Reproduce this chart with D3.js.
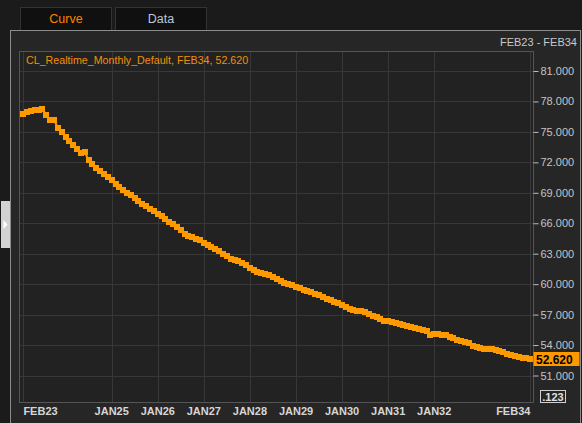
<!DOCTYPE html>
<html>
<head>
<meta charset="utf-8">
<style>
  html, body { margin: 0; padding: 0; background: #1b1b1b; }
  svg { display: block; font-family: "Liberation Sans", Arial, sans-serif; }
</style>
</head>
<body>
<svg id="chart" width="582" height="423"></svg>
<script src="https://cdn.jsdelivr.net/npm/d3@7/dist/d3.min.js"></script>
<script>
// monthly curve FEB23 .. FEB34 (133 contracts)
var startMonth = new Date(2023, 1, 1);
var values = [
  76.79, 76.94, 77.06, 77.16, 77.19, 77.27, 76.67, 76.19, 76.19, 75.41,
  75.02, 74.50, 74.10, 73.71, 73.32, 72.92, 73.02, 72.23, 71.84, 71.44,
  71.15, 70.85, 70.56, 70.26, 69.87, 69.57, 69.28, 69.01, 68.75, 68.49,
  68.19, 67.93, 67.67, 67.44, 67.21, 66.91, 66.71, 66.42, 66.12, 65.89,
  65.66, 65.37, 64.97, 64.78, 64.61, 64.48, 64.32, 64.09, 63.82, 63.63,
  63.43, 63.23, 63.00, 62.77, 62.51, 62.35, 62.25, 62.08, 61.92, 61.62,
  61.36, 61.20, 61.10, 61.00, 60.87, 60.70, 60.51, 60.31, 60.14, 60.01,
  59.89, 59.75, 59.59, 59.42, 59.29, 59.19, 59.06, 58.90, 58.73, 58.57,
  58.41, 58.24, 58.11, 57.92, 57.78, 57.58, 57.45, 57.35, 57.32, 57.22,
  57.03, 56.86, 56.73, 56.54, 56.40, 56.40, 56.30, 56.20, 56.07, 55.94,
  55.84, 55.75, 55.65, 55.55, 55.45, 55.35, 55.02, 55.12, 55.05, 54.96,
  54.96, 54.79, 54.66, 54.50, 54.40, 54.30, 54.20, 53.87, 53.77, 53.71,
  53.64, 53.64, 53.58, 53.48, 53.38, 53.29, 53.15, 53.02, 52.92, 52.82,
  52.72, 52.72, 52.62
];
var xTickLabels = ["FEB23", "JAN25", "JAN26", "JAN27", "JAN28", "JAN29", "JAN30", "JAN31", "JAN32", "FEB34"];
var xTickDates = [
  new Date(2023, 1, 1), new Date(2025, 0, 1), new Date(2026, 0, 1), new Date(2027, 0, 1),
  new Date(2028, 0, 1), new Date(2029, 0, 1), new Date(2030, 0, 1), new Date(2031, 0, 1),
  new Date(2032, 0, 1), new Date(2034, 1, 1)
];
var yTicks = [81, 78, 75, 72, 69, 66, 63, 60, 57, 54, 51];
var seriesName = "CL_Realtime_Monthly_Default";
var lastLabel = "FEB34";
var rangeLabel = "FEB23 - FEB34";

var data = values.map(function(v, i) {
  return { date: d3.timeMonth.offset(startMonth, i), value: v };
});
var last = data[data.length - 1];

var svg = d3.select("#chart");
var orange = "#ff9900";

// page chrome
svg.append("rect").attr("width", 582).attr("height", 423).attr("fill", "#1b1b1b");

var tabs = [
  { name: "Curve", x: 20.5, color: "#ff8000" },
  { name: "Data", x: 115.5, color: "#bcc6d8" }
];
var tab = svg.selectAll(".tab").data(tabs).enter().append("g").attr("class", "tab");
tab.append("rect")
  .attr("x", function(d) { return d.x; }).attr("y", 7.5)
  .attr("width", 91).attr("height", 23)
  .attr("fill", "#101010").attr("stroke", "#333333");
tab.append("text")
  .attr("x", function(d) { return d.x + 45.5; }).attr("y", 23)
  .attr("text-anchor", "middle").attr("font-size", 12.5)
  .attr("fill", function(d) { return d.color; })
  .text(function(d) { return d.name; });

// panel
svg.append("rect").attr("x", 10.5).attr("y", 30.5).attr("width", 570).attr("height", 400)
  .attr("fill", "#262626").attr("stroke", "#8c8c8c");

// side handle
svg.append("rect").attr("x", 1).attr("y", 201).attr("width", 9).attr("height", 47).attr("fill", "#d2d2d2");
svg.append("path").attr("d", "M3.5,220 L7.5,224.5 L3.5,229 Z").attr("fill", "#ffffff");

// plot
var plot = { left: 19.5, top: 51.5, right: 533.5, bottom: 402.5 };
svg.append("rect").attr("x", plot.left).attr("y", plot.top)
  .attr("width", plot.right - plot.left).attr("height", plot.bottom - plot.top)
  .attr("fill", "#222222");

var x = d3.scaleTime()
  .domain([startMonth, last.date])
  .range([23.4, 530.4]);
var y = d3.scaleLinear()
  .domain([81, 51])
  .range([71, 375.5]);

// grid
svg.append("g").selectAll("line").data(yTicks).enter().append("line")
  .attr("x1", plot.left).attr("x2", plot.right)
  .attr("y1", function(d) { return Math.round(y(d)) + 0.5; })
  .attr("y2", function(d) { return Math.round(y(d)) + 0.5; })
  .attr("stroke", "#383838");
svg.append("g").selectAll("line").data(xTickDates).enter().append("line")
  .attr("x1", function(d) { return Math.round(x(d)) + 0.5; })
  .attr("x2", function(d) { return Math.round(x(d)) + 0.5; })
  .attr("y1", plot.top).attr("y2", plot.bottom)
  .attr("stroke", "#383838");

svg.append("rect").attr("x", plot.left).attr("y", plot.top)
  .attr("width", plot.right - plot.left).attr("height", plot.bottom - plot.top)
  .attr("fill", "none").attr("stroke", "#555555");

// y axis on the right
var yAxis = d3.axisRight(y).tickValues(yTicks).tickSize(5).tickPadding(2)
  .tickFormat(d3.format(".3f"));
var ya = svg.append("g").attr("transform", "translate(" + plot.right + ",0)").call(yAxis);
ya.select(".domain").remove();
ya.selectAll(".tick line").attr("stroke", "#bdbdbd");
ya.selectAll(".tick text").attr("fill", "#c4c4c4").attr("font-size", 11)
  .attr("font-family", "Liberation Sans, Arial, sans-serif");

// x axis labels
var xa = svg.append("g");
xa.selectAll("text").data(xTickDates).enter().append("text")
  .attr("x", function(d) { return x(d); })
  .attr("y", 415)
  .attr("text-anchor", function(d, i) { return i === 0 ? "start" : (i === xTickDates.length - 1 ? "end" : "middle"); })
  .attr("font-size", 11).attr("font-weight", "bold").attr("fill", "#d6d6d6")
  .text(function(d, i) { return xTickLabels[i]; });

// curve
var line = d3.line().x(function(d) { return x(d.date); }).y(function(d) { return y(d.value); });
svg.append("path").datum(data).attr("d", line)
  .attr("fill", "none").attr("stroke", orange).attr("stroke-width", 2);
svg.append("g").selectAll("rect").data(data).enter().append("rect")
  .attr("x", function(d) { return Math.round(x(d.date) - 3); })
  .attr("y", function(d) { return Math.round(y(d.value) - 3); })
  .attr("width", 6).attr("height", 6)
  .attr("fill", orange);

// titles
svg.append("text").attr("x", 26).attr("y", 64).attr("font-size", 10.7).attr("fill", "#f0900a")
  .text(seriesName + ", " + lastLabel + ", " + d3.format(".3f")(last.value));
svg.append("text").attr("x", 577).attr("y", 46).attr("text-anchor", "end")
  .attr("font-size", 11).attr("fill", "#c8c8c8").text(rangeLabel);

// last value badge
var ly = y(last.value);
svg.append("rect").attr("x", 533.5).attr("y", Math.round(ly) - 7).attr("width", 46).attr("height", 14)
  .attr("fill", orange);
svg.append("text").attr("x", 536).attr("y", Math.round(ly) + 4.5)
  .attr("font-size", 12).attr("font-weight", "bold").attr("fill", "#000").text(d3.format(".3f")(last.value));

// precision box
svg.append("rect").attr("x", 540.5).attr("y", 390.5).attr("width", 25).attr("height", 12)
  .attr("fill", "none").attr("stroke", "#d0d0d0");
svg.append("text").attr("x", 553).attr("y", 400.5).attr("text-anchor", "middle")
  .attr("font-size", 11).attr("font-weight", "bold").attr("fill", "#e0e0e0").text(".123");
</script>
</body>
</html>
